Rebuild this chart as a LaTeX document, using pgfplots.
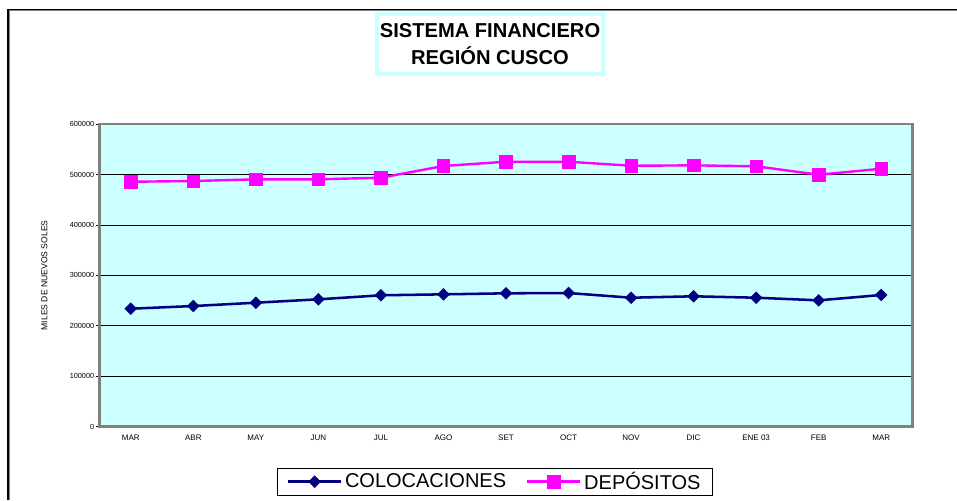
\documentclass[border=0pt]{standalone}
\usepackage{pgfplots}
\pgfplotsset{compat=1.18}
\usepackage{fontspec}
\setmainfont{Liberation Sans}
\definecolor{plotbg}{RGB}{204,255,255}
\definecolor{navyc}{RGB}{0,0,128}
\definecolor{magc}{RGB}{255,0,255}
\definecolor{bordergray}{RGB}{128,128,128}
\begin{document}
\begin{tikzpicture}[x=0.75pt,y=0.75pt]
\useasboundingbox (0,0) rectangle (957,500);
% outer frame (cropped)
\draw[bordergray, line width=0.75pt] (9.2,0) -- (9.2,489.5) -- (957,489.5);
\draw[black, line width=0.9pt] (8,0) -- (8,490.7) -- (957,490.7);
\begin{axis}[
  at={(74.625pt,54.975pt)}, anchor=south west,
  width=609.75pt, height=227pt, scale only axis,
  xmin=-0.5, xmax=12.5, ymin=0, ymax=600000,
  axis background/.style={fill=plotbg},
  axis line style={bordergray, line width=1.9pt},
  xtick={0,...,12},
  xticklabels={MAR,ABR,MAY,JUN,JUL,AGO,SET,OCT,NOV,DIC,ENE 03,FEB,MAR},
  ytick={0,100000,200000,300000,400000,500000,600000},
  ytick pos=left,
  scaled y ticks=false,
  yticklabel={\pgfmathprintnumber[fixed,precision=0,1000 sep={}]{\tick}},
  tick align=outside,
  major tick length=2.25pt,
  major x tick style={draw=none},
  y tick style={black, line width=0.6pt},
  ymajorgrids,
  major grid style={black, line width=0.6pt},
  /pgf/number format/assume math mode=true,
  yticklabel style={font=\fontsize{5.5}{6}\selectfont, inner sep=1.5pt},
  xticklabel style={font=\fontsize{6}{7}\selectfont, anchor=center, yshift=-6pt},
  ylabel={MILES DE NUEVOS SOLES},
  ylabel style={font=\fontsize{6.45}{7}\selectfont, at={(axis description cs:-0.0677,0.5)}, anchor=center},
  legend columns=2,
  legend style={at={(0.4865,-0.1817)}, anchor=center, draw=black, line width=0.75pt,
    font=\fontsize{15}{16}\selectfont, inner xsep=7pt, inner ysep=1pt,
    nodes={inner sep=2pt}},
  /tikz/every even column/.append style={column sep=13pt},
  legend image code/.code={%
    \draw[mark repeat=2, mark phase=2, #1] plot coordinates {(0pt,0pt) (19.9pt,0pt) (39.75pt,0pt)};},
  clip=false,
]
\addplot[navyc, line width=1.9pt, mark=diamond*, mark size=4.4pt,
  mark options={solid, fill=navyc, line width=0.4pt, xscale=1.3333}]
  coordinates {(0,233900) (1,239200) (2,245800) (3,252500) (4,260500) (5,262400) (6,264400) (7,265000) (8,255700) (9,258500) (10,255700) (11,250500) (12,261100)};
\addlegendentry{COLOCACIONES}
\addplot[magc, line width=1.8pt, mark=square*, mark size=4.7pt,
  mark options={solid, fill=magc, line width=0.4pt}]
  coordinates {(0,485600) (1,487000) (2,490400) (3,490400) (4,493600) (5,516800) (6,525300) (7,525300) (8,517300) (9,518100) (10,516200) (11,499500) (12,511400)};
\addlegendentry{DEPÓSITOS}
\end{axis}
\node[draw=plotbg, line width=3pt, fill=white, minimum width=169.5pt, minimum height=45pt,
  align=center, font=\fontsize{15.1}{20}\selectfont\bfseries, inner sep=0pt] at (490,456)
  {SISTEMA FINANCIERO\\REGIÓN CUSCO};
\end{tikzpicture}
\end{document}
